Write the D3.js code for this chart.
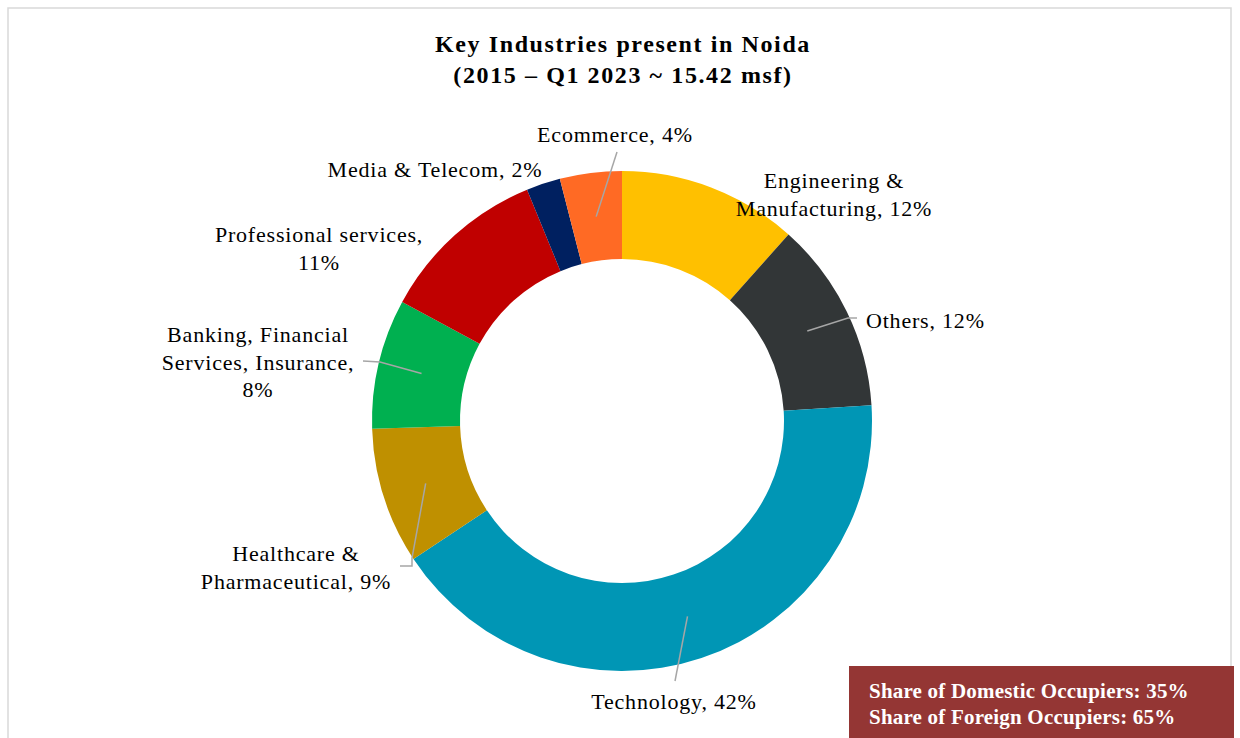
<!DOCTYPE html>
<html>
<head>
<meta charset="utf-8">
<script src="https://cdn.jsdelivr.net/npm/d3@7"></script>
<style>
  body { margin: 0; background: #fff; }
  svg text { font-family: "Liberation Serif", "Times New Roman", serif; }
</style>
</head>
<body>
<svg id="chart" width="1240" height="738"></svg>
<script>
// data, clockwise from 12 o'clock
var industries = ["Engineering & Manufacturing", "Others", "Technology", "Healthcare & Pharmaceutical",
  "Banking, Financial Services, Insurance", "Professional services", "Media & Telecom", "Ecommerce"]
var shares = [11.6, 12.4, 41.7, 8.8, 8.4, 10.9, 2.2, 4.0]
var shown = [12, 12, 42, 9, 8, 11, 2, 4]
var colors = ["#FFC000", "#323637", "#0096B5", "#BF9000", "#00B050", "#C00000", "#002060", "#FF6A24"]
var titleLines = ["Key Industries present in Noida", "(2015 \u2013 Q1 2023 ~ 15.42 msf)"]
var noteLines = ["Share of Domestic Occupiers: 35%", "Share of Foreign Occupiers: 65%"]

// label layout: text lines, anchor, leader end points (relative to chart centre)
var labelLayout = [
  { lines: ["Engineering &", "Manufacturing, 12%"], x: 212, y: -233, anchor: "middle", leader: null },
  { lines: ["Others, 12%"], x: 244, y: -93, anchor: "start", leader: [[226, -103], [235, -103]] },
  { lines: ["Technology, 42%"], x: 52, y: 288, anchor: "middle", leader: [[53, 260]] },
  { lines: ["Healthcare &", "Pharmaceutical, 9%"], x: -326, y: 140, anchor: "middle", leader: [[-210, 137], [-210, 145], [-222, 145]] },
  { lines: ["Banking, Financial", "Services, Insurance,", "8%"], x: -364, y: -79, anchor: "middle", leader: [[-242, -59], [-259, -60]] },
  { lines: ["Professional services,", "11%"], x: -303, y: -179, anchor: "middle", leader: null },
  { lines: ["Media & Telecom, 2%"], x: -187, y: -244, anchor: "middle", leader: null },
  { lines: ["Ecommerce, 4%"], x: -7, y: -279, anchor: "middle", leader: [[-5, -269]] }
]

var width = 1240, height = 738
var cx = 622, cy = 421
var outerR = 250, innerR = 162

var svg = d3.select("#chart")

// chart frame
svg.append("rect")
  .attr("x", 8).attr("y", 8)
  .attr("width", 1223).attr("height", 760)
  .attr("fill", "none")
  .attr("stroke", "#d9d9d9")
  .attr("stroke-width", 1.5)

// title
svg.append("g").selectAll("text")
  .data(titleLines)
  .enter().append("text")
  .attr("x", cx + 1)
  .attr("y", function(d, i) { return 52 + i * 31 })
  .attr("text-anchor", "middle")
  .attr("font-size", 24)
  .attr("font-weight", "bold")
  .attr("letter-spacing", 1.6)
  .attr("fill", "#000")
  .text(function(d) { return d })

var pie = d3.pie().sort(null).value(function(d) { return d })
var arcs = pie(shares)
var arc = d3.arc().innerRadius(innerR).outerRadius(outerR)

var g = svg.append("g").attr("transform", "translate(" + [cx, cy] + ")")

g.selectAll("path")
  .data(arcs)
  .enter().append("path")
  .attr("d", arc)
  .attr("fill", function(d, i) { return colors[i] })

// leader lines from slice centroid
g.selectAll("polyline")
  .data(arcs.filter(function(d, i) { return labelLayout[i].leader }))
  .enter().append("polyline")
  .attr("points", function(d) {
    var pts = [arc.centroid(d)].concat(labelLayout[d.index].leader)
    return pts.map(function(p) { return p.join(",") }).join(" ")
  })
  .attr("fill", "none")
  .attr("stroke", "#a6a6a6")
  .attr("stroke-width", 1.5)

// data labels
var labels = g.selectAll("text.lbl")
  .data(arcs)
  .enter().append("text")
  .attr("class", "lbl")
  .attr("text-anchor", function(d) { return labelLayout[d.index].anchor })
  .attr("font-size", 22)
  .attr("letter-spacing", 0.8)
  .attr("fill", "#000")

labels.selectAll("tspan")
  .data(function(d) {
    var l = labelLayout[d.index]
    return l.lines.map(function(t, j) { return { t: t, x: l.x, y: l.y + j * 27.5 } })
  })
  .enter().append("tspan")
  .attr("x", function(d) { return d.x })
  .attr("y", function(d) { return d.y })
  .text(function(d) { return d.t })

// occupier note box
svg.append("rect")
  .attr("x", 849).attr("y", 666)
  .attr("width", 385).attr("height", 80)
  .attr("fill", "#943634")

svg.append("g").selectAll("text")
  .data(noteLines)
  .enter().append("text")
  .attr("x", 869)
  .attr("y", function(d, i) { return 698 + i * 26 })
  .attr("font-size", 21)
  .attr("font-weight", "bold")
  .attr("letter-spacing", 0.2)
  .attr("fill", "#fff")
  .text(function(d) { return d })
</script>
</body>
</html>
